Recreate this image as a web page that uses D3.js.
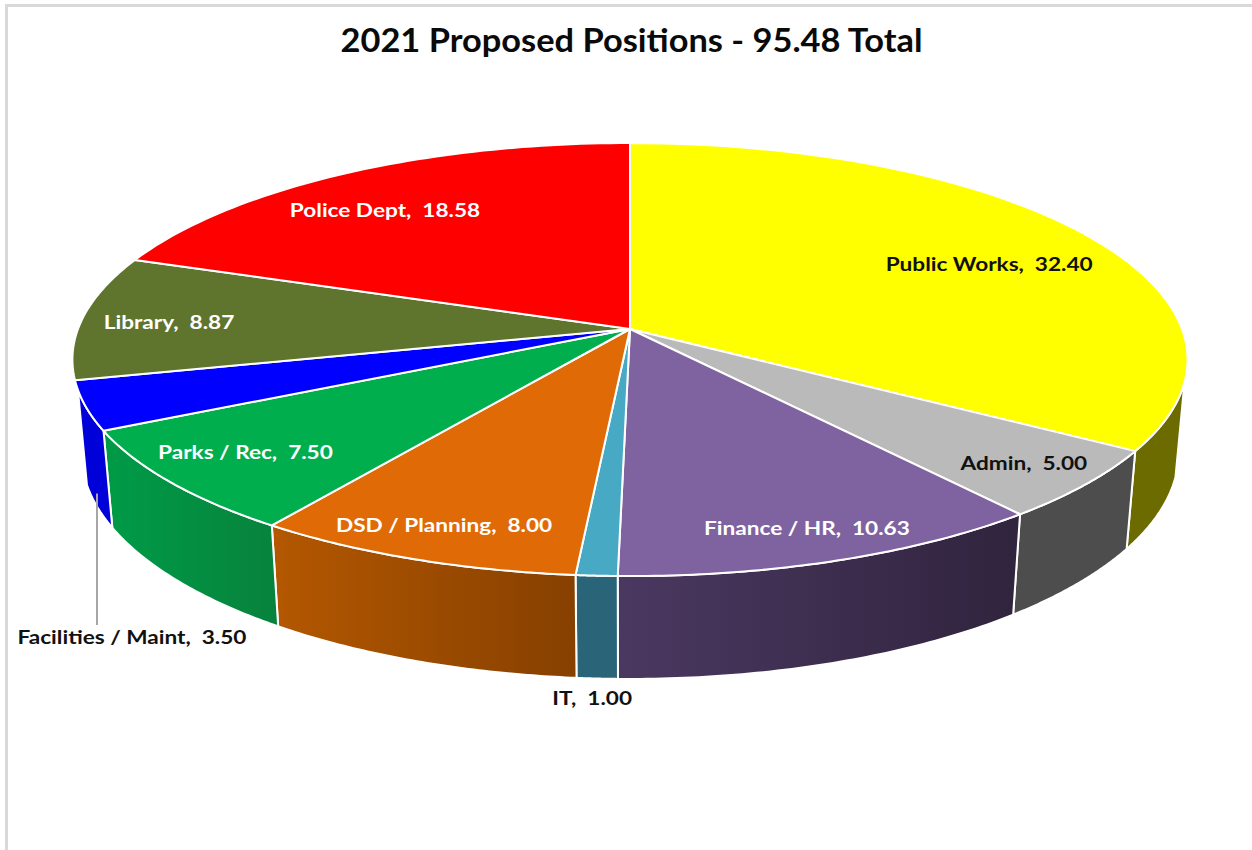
<!DOCTYPE html>
<html>
<head>
<meta charset="utf-8">
<script src="https://cdn.jsdelivr.net/npm/d3@7/dist/d3.min.js"></script>
<style>
  html, body { margin: 0; padding: 0; background: #fff; }
  svg { display: block; }
  text { font-family: Lato, "Open Sans", sans-serif; font-weight: 700; white-space: pre; }
</style>
</head>
<body>
<svg id="chart" width="1252" height="850"></svg>
<script>
// Positions per department, clockwise from twelve o'clock
const departments = ["Public Works", "Admin", "Finance / HR", "IT", "DSD / Planning", "Parks / Rec", "Facilities / Maint", "Library", "Police Dept"];
const positions = [32.40, 5.00, 10.63, 1.00, 8.00, 7.50, 3.50, 8.87, 18.58];
const chartTitle = "2021 Proposed Positions - 95.48 Total";

// Fill colours: top face, then side wall left and right gradient stops
const topColors = ["#ffff00", "#bababa", "#7f62a0", "#48a9c5", "#e06a06", "#00ae4e", "#0000ff", "#5f752e", "#ff0000"];
const wallLeft = ["#6b6b00", "#4d4d4d", "#4b3861", "#2a6478", "#b35700", "#009a47", "#0000d8", "#5f752e", "#ff0000"];
const wallRight = ["#6b6b00", "#4d4d4d", "#30243e", "#2a6478", "#864000", "#07823c", "#0000d8", "#5f752e", "#ff0000"];
const labelColors = ["#111", "#111", "#fff", "#111", "#fff", "#fff", "#111", "#fff", "#fff"];

// Label anchors in disc coordinates (-1..1 across, -1..1 back to front)
const labelDisc = [[0.680, -0.320], [0.655, 0.580], [0.283, 0.828], [-0.055, 1.399], [-0.298, 0.817], [-0.644, 0.536], [-0.749, 1.205], [-0.839, -0.033], [-0.482, -0.609]];

// Perspective camera for the tilted disc
const cam = { cx: 630, cy: 329, a: 552, b: 212.2, p: 0.141, depthW: 0.016, depthY: 94 };

// Projects a disc point; h = 0 on the top face, h = 1 on the bottom rim
function project(u, v, h) {
  const w = 1 - cam.p * v + cam.depthW * h;
  return [cam.cx + cam.a * u / w, cam.cy + (cam.b * v + cam.depthY * h) / w];
}
const rim = (t, h) => project(Math.sin(t), -Math.cos(t), h);
const samples = (t0, t1) => d3.range(0, 61).map(i => t0 + (t1 - t0) * i / 60);

const arcs = d3.pie().sort(null).value(d => d)(positions);
const line = d3.line();
const svg = d3.select("#chart");
const defs = svg.append("defs");

// Chart frame, open on the right and bottom edges
svg.append("path")
  .attr("d", line([[6.5, 850], [6.5, 5.5], [1252, 5.5]]))
  .attr("fill", "none").attr("stroke", "#d9d9d9").attr("stroke-width", 3);

// Title and labels run wider than the font's natural proportions
svg.append("text")
  .attr("transform", "translate(631.5,52) scale(1.075,1)")
  .attr("text-anchor", "middle").attr("font-size", 32).attr("fill", "#0a0a0a")
  .text(chartTitle);

// Only the part of the rim facing the viewer gets a wall
const wallStart = 104 * Math.PI / 180;
const wallEnd = 254 * Math.PI / 180;

const walls = arcs
  .map((d, i) => ({ i, t0: Math.max(d.startAngle, wallStart), t1: Math.min(d.endAngle, wallEnd) }))
  .filter(d => d.t1 > d.t0);

walls.forEach(d => {
  const xs = [rim(d.t0, 1)[0], rim(d.t1, 1)[0]];
  const g = defs.append("linearGradient")
    .attr("id", "wall" + d.i).attr("gradientUnits", "userSpaceOnUse")
    .attr("x1", d3.min(xs)).attr("x2", d3.max(xs)).attr("y1", 0).attr("y2", 0);
  g.append("stop").attr("offset", 0).attr("stop-color", wallLeft[d.i]);
  g.append("stop").attr("offset", 1).attr("stop-color", wallRight[d.i]);
});

svg.append("g").selectAll("path").data(walls).join("path")
  .attr("d", d => {
    const ts = samples(d.t0, d.t1);
    return line(ts.map(t => rim(t, 0)).concat(ts.slice().reverse().map(t => rim(t, 1)))) + "Z";
  })
  .attr("fill", d => `url(#wall${d.i})`)
  .attr("stroke", "#fff").attr("stroke-width", 2).attr("stroke-linejoin", "round");

// Top face
svg.append("g").selectAll("path").data(arcs).join("path")
  .attr("d", d => line([project(0, 0, 0)].concat(samples(d.startAngle, d.endAngle).map(t => rim(t, 0)))) + "Z")
  .attr("fill", (d, i) => topColors[i])
  .attr("stroke", "#fff").attr("stroke-width", 2).attr("stroke-linejoin", "round");

// Leader from the Facilities slice down to its outside label
const facilitiesIndex = departments.indexOf("Facilities / Maint");
const leaderTop = rim((arcs[facilitiesIndex].startAngle + arcs[facilitiesIndex].endAngle) / 2, 1);
svg.append("line")
  .attr("x1", 97).attr("x2", 97).attr("y1", leaderTop[1] - 8).attr("y2", 625)
  .attr("stroke", "#a6a6a6").attr("stroke-width", 2);

// Data labels
svg.append("g").selectAll("text").data(arcs).join("text")
  .attr("transform", (d, i) => {
    const [x, y] = project(labelDisc[i][0], labelDisc[i][1], 0);
    return `translate(${x},${y}) scale(1.19,1)`;
  })
  .attr("dy", "0.35em")
  .attr("text-anchor", "middle").attr("font-size", 19)
  .attr("fill", (d, i) => labelColors[i])
  .text((d, i) => `${departments[i]},  ${positions[i].toFixed(2)}`);
</script>
</body>
</html>
